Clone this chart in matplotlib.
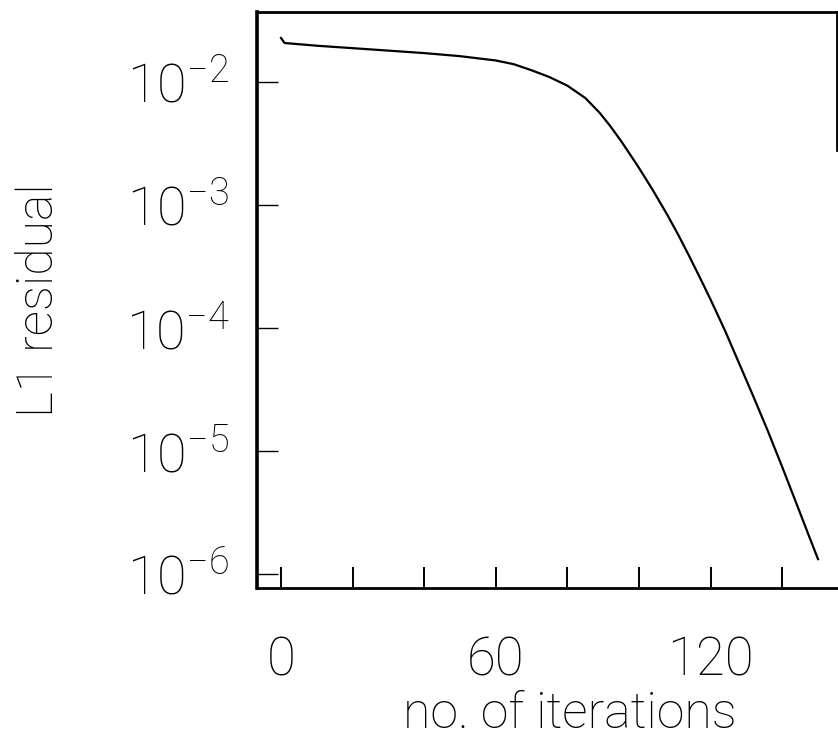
import matplotlib
matplotlib.use('Agg')
import matplotlib.pyplot as plt
from matplotlib.ticker import FixedLocator, NullLocator, NullFormatter

# iterations and L1 residual
iterations = [0, 1, 10, 20, 30, 40, 50, 60, 65, 70, 75, 80, 85, 89, 92, 95,
              98, 100, 104, 108, 111, 114, 117, 120, 124, 128, 132, 136,
              140, 144, 148, 150]
residual = [2.280e-2, 2.075e-2, 1.972e-2, 1.884e-2, 1.799e-2, 1.718e-2,
            1.622e-2, 1.496e-2, 1.396e-2, 1.245e-2, 1.096e-2, 9.33e-3,
            7.41e-3, 5.62e-3, 4.37e-3, 3.31e-3, 2.45e-3, 2.00e-3, 1.30e-3,
            8.22e-4, 5.69e-4, 3.85e-4, 2.57e-4, 1.70e-4, 9.55e-5, 5.13e-5,
            2.75e-5, 1.45e-5, 7.41e-6, 3.72e-6, 1.86e-6, 1.32e-6]

x_major = [0, 60, 120]
x_minor = [20, 40, 80, 100, 140]
y_ticks = [1e-6, 1e-5, 1e-4, 1e-3, 1e-2]
y_labels = [r'$10^{-6}$', r'$10^{-5}$', r'$10^{-4}$', r'$10^{-3}$', r'$10^{-2}$']

plt.rcParams['font.family'] = ['Roboto', 'DejaVu Sans']
plt.rcParams['font.weight'] = 'light'
plt.rcParams['axes.labelweight'] = 'light'
plt.rcParams['mathtext.fontset'] = 'custom'
plt.rcParams['mathtext.rm'] = 'Roboto:light'
plt.rcParams['mathtext.default'] = 'rm'

fig = plt.figure(figsize=(8.38, 7.46), dpi=100)
ax = fig.add_axes([0.3067, 0.2118, 0.6921, 0.7721])

ax.plot(iterations, residual, color='black', lw=1.6)
ax.set_yscale('log')
ax.set_xlim(-6.7, 155.3)
ax.set_ylim(10**-6.114, 10**-1.431)

ax.xaxis.set_major_locator(FixedLocator(x_major))
ax.xaxis.set_minor_locator(FixedLocator(x_minor))
ax.xaxis.set_minor_formatter(NullFormatter())
ax.yaxis.set_major_locator(FixedLocator(y_ticks))
ax.yaxis.set_minor_locator(NullLocator())
ax.set_yticks(y_ticks, y_labels)

ax.tick_params(axis='x', which='both', direction='in', length=15, width=1.4,
               pad=34, labelsize=38, top=False)
ax.tick_params(axis='y', which='both', direction='in', length=15, width=1.0,
               pad=20, labelsize=39, right=False)

for side in ['left', 'bottom', 'top', 'right']:
    ax.spines[side].set_linewidth(2.0)
ax.spines['left'].set_linewidth(2.6)
# the scan loses the right frame below the first decade
ax.spines['right'].set_bounds(10**-2.55, 10**-1.431)

ax.set_xlabel('no. of iterations', fontsize=36, fontweight='light', va='center')
ax.xaxis.set_label_coords(0.54, -0.22)
ax.set_ylabel('L1 residual', fontsize=36, fontweight='light', va='center')
ax.yaxis.set_label_coords(-0.376, 0.5)

fig.savefig('out.png', dpi=100)
